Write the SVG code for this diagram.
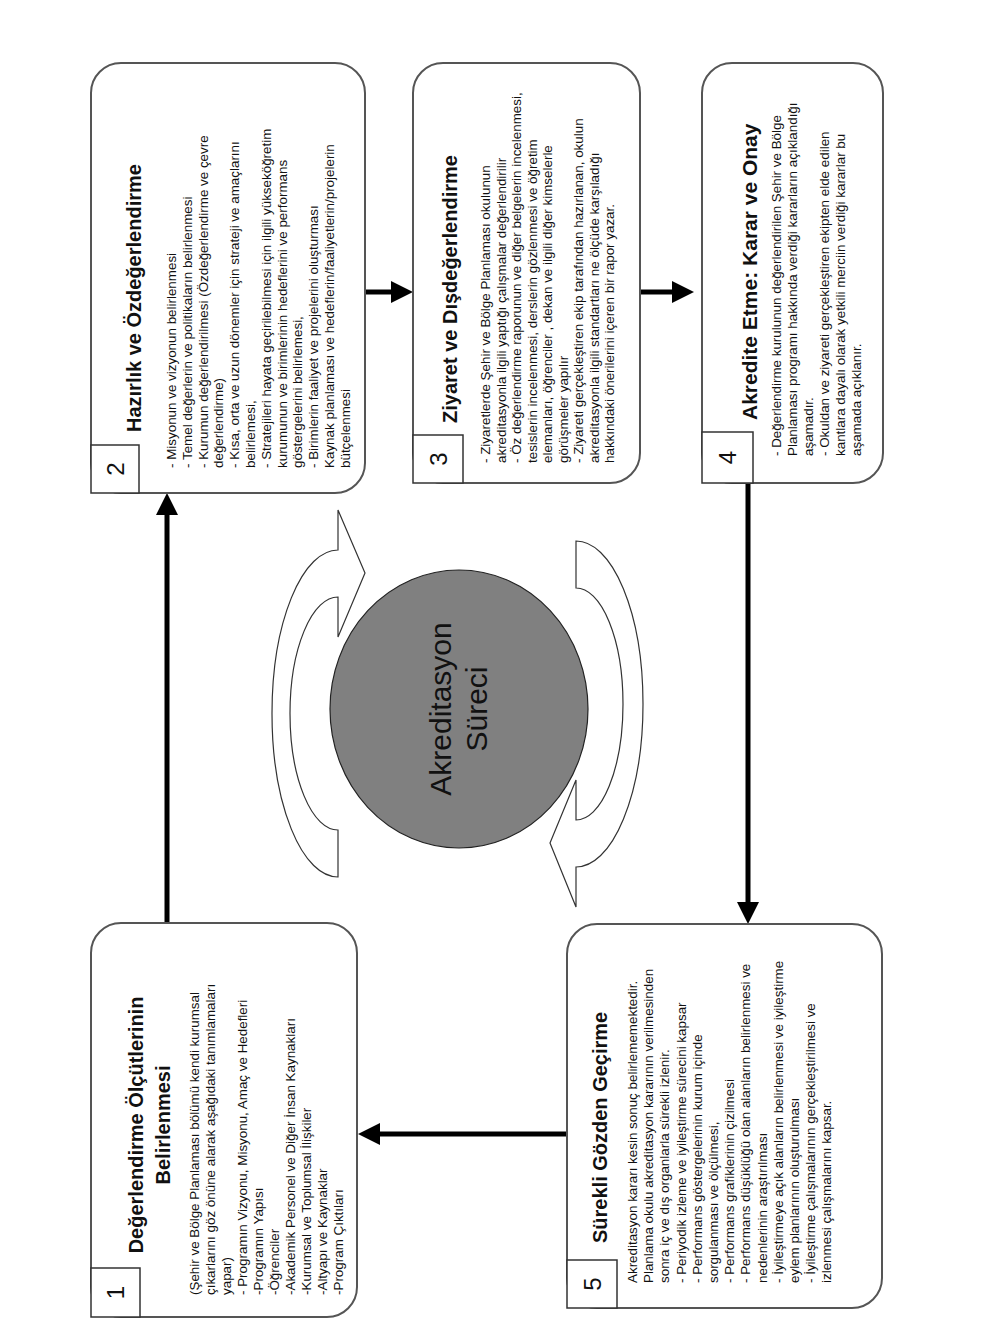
<svg xmlns="http://www.w3.org/2000/svg" width="1008" height="1344" viewBox="0 0 1008 1344">
<style>
.box{fill:#fff;stroke:#555;stroke-width:2}
.num{fill:#fff;stroke:#333;stroke-width:1.5}
.t{font-family:"Liberation Sans",Arial,sans-serif;fill:#111}
.title{font-size:20px;font-weight:bold}
.body{font-size:13.4px}
.n{font-size:24px;text-anchor:middle}
.conn{stroke:#000;stroke-width:5;fill:none}
.carrow{fill:#fff;stroke:#333;stroke-width:1.2}
</style>
<defs>
<marker id="ah" markerWidth="22" markerHeight="22" refX="0" refY="11" orient="auto" markerUnits="userSpaceOnUse">
<path d="M0,0 L22,11 L0,22 z" fill="#000"/>
</marker>
</defs>
<rect width="1008" height="1344" fill="#fff"/>

<g id="connectors">
<path class="conn" d="M167 923 V515" marker-end="url(#ah)"/>
<path class="conn" d="M365 292 H391" marker-end="url(#ah)"/>
<path class="conn" d="M640 292 H672" marker-end="url(#ah)"/>
<path class="conn" d="M748 483 V902" marker-end="url(#ah)"/>
<path class="conn" d="M567 1134 H380" marker-end="url(#ah)"/>
</g>

<g id="cycle">
<path class="carrow" d="M338 877 A66 163.5 0 0 1 338 550 L338 510 L365 573 L338 637 L338 597 A48 116.5 0 0 0 338 830 Z"/>
<path class="carrow" d="M576 541 A67 163 0 0 1 576 867 L576 907 L550 843 L576 780 L576 820 A47 116 0 0 0 576 588 Z"/>
<ellipse cx="459" cy="709" rx="129" ry="139" fill="#808080" stroke="#222" stroke-width="1.2"/>
<text class="t" font-size="30" text-anchor="middle" transform="translate(451,709) rotate(-90)"><tspan x="0" y="0">Akreditasyon</tspan><tspan x="0" dy="36">Süreci</tspan></text>
</g>

<g id="node1">
<rect class="box" x="91" y="923" width="266" height="394" rx="30"/>
<rect class="num" x="91" y="1268" width="49" height="49"/>
<text class="t n" transform="translate(124,1292.5) rotate(-90)">1</text>
<text class="t title" text-anchor="middle" transform="translate(143,1125) rotate(-90)"><tspan x="0" y="0">Değerlendirme Ölçütlerinin</tspan><tspan x="0" dy="27">Belirlenmesi</tspan></text>
<text class="t body" transform="translate(199,1295) rotate(-90)">
<tspan x="0" y="0">(Şehir ve Bölge Planlaması bölümü  kendi kurumsal</tspan>
<tspan x="0" dy="16">çıkarlarını göz önüne alarak aşağıdaki tanımlamaları</tspan>
<tspan x="0" dy="16">yapar)</tspan>
<tspan x="0" dy="16">- Programın Vizyonu, Misyonu, Amaç ve Hedefleri</tspan>
<tspan x="0" dy="16">-Programın  Yapısı</tspan>
<tspan x="0" dy="16">-Öğrenciler</tspan>
<tspan x="0" dy="16">-Akademik Personel ve Diğer İnsan Kaynakları</tspan>
<tspan x="0" dy="16">-Kurumsal ve Toplumsal İlişkiler</tspan>
<tspan x="0" dy="16">-Altyapı ve Kaynaklar</tspan>
<tspan x="0" dy="16">-Program Çıktıları</tspan>
</text>
</g>

<g id="node2">
<rect class="box" x="91" y="63" width="274" height="430" rx="30"/>
<rect class="num" x="91" y="445" width="48" height="48"/>
<text class="t n" transform="translate(123.5,469) rotate(-90)">2</text>
<text class="t title" transform="translate(141,432) rotate(-90)">Hazırlık ve Özdeğerlendirme</text>
<text class="t body" transform="translate(176,468) rotate(-90)">
<tspan x="0" y="0">- Misyonun ve vizyonun belirlenmesi</tspan>
<tspan x="0" dy="15.8">- Temel değerlerin ve politikaların belirlenmesi</tspan>
<tspan x="0" dy="15.8">- Kurumun değerlendirilmesi (Özdeğerlendirme ve çevre</tspan>
<tspan x="0" dy="15.8">değerlendirme)</tspan>
<tspan x="0" dy="15.8">- Kısa, orta ve uzun dönemler için strateji ve amaçlarını</tspan>
<tspan x="0" dy="15.8">belirlemesi,</tspan>
<tspan x="0" dy="15.8">- Stratejileri hayata geçirilebilmesi için ilgili yükseköğretim</tspan>
<tspan x="0" dy="15.8">kurumunun ve birimlerinin hedeflerini ve performans</tspan>
<tspan x="0" dy="15.8">göstergelerini belirlemesi,</tspan>
<tspan x="0" dy="15.8">- Birimlerin faaliyet ve projelerini oluşturması</tspan>
<tspan x="0" dy="15.8">Kaynak planlaması ve hedeflerin/faaliyetlerin/projelerin</tspan>
<tspan x="0" dy="15.8">bütçelenmesi</tspan>
</text>
</g>

<g id="node3">
<rect class="box" x="413" y="63" width="227" height="420" rx="30"/>
<rect class="num" x="413" y="435" width="50" height="48"/>
<text class="t n" transform="translate(446.5,459) rotate(-90)">3</text>
<text class="t title" transform="translate(457,423) rotate(-90)">Ziyaret ve Dışdeğerlendirme</text>
<text class="t body" transform="translate(490,463) rotate(-90)">
<tspan x="0" y="0">- Ziyaretlerde Şehir ve Bölge Planlaması okulunun</tspan>
<tspan x="0" dy="15.5">akreditasyonla ilgili yaptığı çalışmalar değerlendirilir</tspan>
<tspan x="0" dy="15.5">- Öz değerlendirme raporunun ve diğer belgelerin incelenmesi,</tspan>
<tspan x="0" dy="15.5">tesislerin incelenmesi, derslerin gözlenmesi ve öğretim</tspan>
<tspan x="0" dy="15.5">elemanları, öğrenciler , dekan ve ilgili diğer kimselerle</tspan>
<tspan x="0" dy="15.5">görüşmeler yapılır</tspan>
<tspan x="0" dy="15.5">- Ziyareti gerçekleştiren ekip tarafından hazırlanan, okulun</tspan>
<tspan x="0" dy="15.5">akreditasyonla ilgili standartları ne ölçüde karşıladığı</tspan>
<tspan x="0" dy="15.5">hakkındaki önerilerini içeren bir rapor yazar.</tspan>
</text>
</g>

<g id="node4">
<rect class="box" x="702" y="63" width="181" height="420" rx="30"/>
<rect class="num" x="702" y="432" width="51" height="51"/>
<text class="t n" transform="translate(736,457.5) rotate(-90)">4</text>
<text class="t title" font-size="21" transform="translate(757,420) rotate(-90)" style="font-size:21px">Akredite Etme: Karar ve Onay</text>
<text class="t body" transform="translate(781,456) rotate(-90)">
<tspan x="0" y="0">- Değerlendirme kurulunun değerlendirilen Şehir ve Bölge</tspan>
<tspan x="0" dy="16">Planlaması programı hakkında verdiği kararların açıklandığı</tspan>
<tspan x="0" dy="16">aşamadır.</tspan>
<tspan x="0" dy="16">- Okuldan ve ziyareti gerçekleştiren ekipten elde edilen</tspan>
<tspan x="0" dy="16">kantlara dayalı olarak yetkili merciin verdiği kararlar bu</tspan>
<tspan x="0" dy="16">aşamada açıklanır.</tspan>
</text>
</g>

<g id="node5">
<rect class="box" x="567" y="924" width="315" height="384" rx="30"/>
<rect class="num" x="567" y="1260" width="50" height="48"/>
<text class="t n" transform="translate(600.5,1284) rotate(-90)">5</text>
<text class="t title" transform="translate(607,1243) rotate(-90)">Sürekli Gözden Geçirme</text>
<text class="t body" transform="translate(637,1283) rotate(-90)">
<tspan x="0" y="0">Akreditasyon kararı kesin sonuç belirlememektedir.</tspan>
<tspan x="0" dy="16.2">Planlama okulu akreditasyon kararının verilmesinden</tspan>
<tspan x="0" dy="16.2">sonra iç ve dış organlarla sürekli izlenir.</tspan>
<tspan x="0" dy="16.2">- Periyodik izleme ve iyileştirme sürecini kapsar</tspan>
<tspan x="0" dy="16.2">- Performans göstergelerinin kurum içinde</tspan>
<tspan x="0" dy="16.2">sorgulanması ve ölçülmesi,</tspan>
<tspan x="0" dy="16.2">- Performans grafiklerinin çizilmesi</tspan>
<tspan x="0" dy="16.2">- Performans düşüklüğü olan alanların belirlenmesi ve</tspan>
<tspan x="0" dy="16.2">nedenlerinin araştırılması</tspan>
<tspan x="0" dy="16.2">- İyileştirmeye açık alanların belirlenmesi ve iyileştirme</tspan>
<tspan x="0" dy="16.2">eylem planlarının oluşturulması</tspan>
<tspan x="0" dy="16.2">- İyileştirme çalışmalarının gerçekleştirilmesi ve</tspan>
<tspan x="0" dy="16.2">izlenmesi çalışmalarını kapsar.</tspan>
</text>
</g>
</svg>
